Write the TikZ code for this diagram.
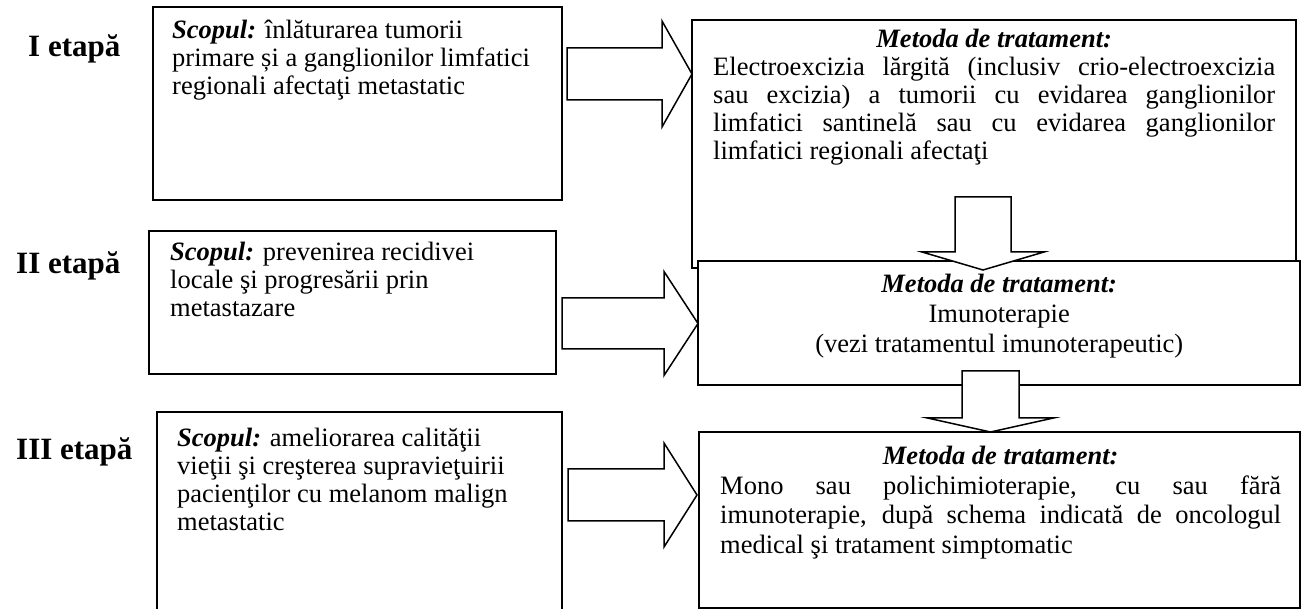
\documentclass[tikz,border=0pt]{standalone}
\usepackage{fontspec}
\setmainfont{Liberation Serif}
\usetikzlibrary{calc}
\newcommand\bi[1]{{\bfseries\itshape #1}}
\newcommand\afont{\fontsize{26.5}{28}\selectfont}
\tikzset{
  box/.style={draw, line width=1.5pt, fill=white, inner sep=0pt, outer sep=0pt, anchor=north west},
  txt/.style={inner sep=0pt, anchor=base west},
  lbl/.style={inner sep=0pt, anchor=base west, font=\fontsize{31}{34}\selectfont\bfseries},
  blk/.style={draw, line width=1.5pt, fill=white, line join=miter},
}
% right block arrow: #1 tail coord, #2 tip coord, #3 shaft half, #4 head half, #5 head length
\newcommand\rarrow[5]{%
  \draw[blk] let \p1=(#1), \p2=(#2) in
    (\x1,\y2-#3pt) -- (\x2-#5pt,\y2-#3pt) -- (\x2-#5pt,\y2-#4pt) -- (\x2,\y2)
    -- (\x2-#5pt,\y2+#4pt) -- (\x2-#5pt,\y2+#3pt) -- (\x1,\y2+#3pt) -- cycle;}
% down block arrow: #1 shaft top, #2 tip, #3 shaft half, #4 head half, #5 head length
\newcommand\darrow[5]{%
  \draw[blk] let \p1=(#1), \p2=(#2) in
    (\x2-#3pt,\y1) -- (\x2-#3pt,\y2+#5pt) -- (\x2-#4pt,\y2+#5pt) -- (\x2,\y2)
    -- (\x2+#4pt,\y2+#5pt) -- (\x2+#3pt,\y2+#5pt) -- (\x2+#3pt,\y1) -- cycle;}
\begin{document}
\begin{tikzpicture}[x=1pt,y=-1pt]
\useasboundingbox (0,0) rectangle (1302,609);
\clip (0,0) rectangle (1302,609);

% stage labels
\node[lbl] (l1) at (28,57) {I etapă};
\node[lbl] (l2) at (16,274) {II etapă};
\node[lbl] (l3) at (16,460) {III etapă};

% left boxes
\node[box, minimum width=409pt, minimum height=193pt] (A1) at (153,7) {};
\node[box, minimum width=407pt, minimum height=143pt] (A2) at (149,231) {};
\node[box, minimum width=405pt, minimum height=230pt] (A3) at (157,412) {};

\node[txt] (ta1) at (172,39) {\parbox[t]{400pt}{\afont\raggedright
  \bi{Scopul:} înlăturarea tumorii\\
  primare și a ganglionilor limfatici\\
  regionali afectaţi metastatic}};
\node[txt] (ta2) at (170,261) {\parbox[t]{400pt}{\afont\raggedright
  \bi{Scopul:} prevenirea recidivei\\
  locale şi progresării prin\\
  metastazare}};
\node[txt] (ta3) at (177,447) {\parbox[t]{400pt}{\afont\raggedright
  \bi{Scopul:} ameliorarea calităţii\\
  vieţii şi creşterea supravieţuirii\\
  pacienţilor cu melanom malign\\
  metastatic}};

% right boxes
\node[box, minimum width=604pt, minimum height=248pt] (B1) at (692,20) {};
\node[txt] (tb1) at (713,48) {\parbox[t]{562pt}{\fontsize{26.5}{28}\selectfont\centering
  \bi{Metoda de tratament:}\\
  \makebox[562pt][s]{Electroexcizia lărgită (inclusiv crio-electroexcizia}\\
  \makebox[562pt][s]{sau excizia) a tumorii cu evidarea ganglionilor}\\
  \makebox[562pt][s]{limfatici santinelă sau cu evidarea ganglionilor}\\
  \makebox[562pt][l]{limfatici regionali afectaţi}}};

\node[box, minimum width=602pt, minimum height=124pt] (B2) at (698,261) {};
\node[txt] (tb2) at (718,293) {\parbox[t]{562pt}{\fontsize{26.5}{30}\selectfont\centering
  \bi{Metoda de tratament:}\\
  Imunoterapie\\
  (vezi tratamentul imunoterapeutic)}};

% arrow B1 -> B2
\coordinate (v1s) at (983,197);
\coordinate (v1t) at ($(B2.north -| v1s)+(0,9)$);
\darrow{v1s}{v1t}{28}{61}{18}

\node[box, minimum width=601pt, minimum height=176pt] (B3) at (699,432) {};
\node[txt] (tb3) at (720,465) {\parbox[t]{561pt}{\fontsize{26.5}{29.5}\selectfont\centering
  \bi{Metoda de tratament:}\\
  \makebox[561pt][s]{Mono sau polichimioterapie, cu sau fără}\\
  \makebox[561pt][s]{imunoterapie, după schema indicată de oncologul}\\
  \makebox[561pt][l]{medical şi tratament simptomatic}}};

% arrow B2 -> B3
\coordinate (v2s) at (990.5,371);
\coordinate (v2t) at (B3.north -| v2s);
\darrow{v2s}{v2t}{28.5}{63}{14}

% horizontal arrows
\coordinate (s1) at ($(A1.east |- 0,74)+(5,0)$);
\coordinate (t1) at (B1.west |- s1);
\rarrow{s1}{t1}{26}{53}{30}
\coordinate (s2) at ($(A2.east |- 0,323.5)+(6,0)$);
\coordinate (t2) at (B2.west |- s2);
\rarrow{s2}{t2}{25.5}{52}{34}
\coordinate (s3) at ($(A3.east |- 0,495)+(6,0)$);
\coordinate (t3) at ($(B3.west |- s3)+(-2,0)$);
\rarrow{s3}{t3}{26}{52}{33}
\end{tikzpicture}
\end{document}
